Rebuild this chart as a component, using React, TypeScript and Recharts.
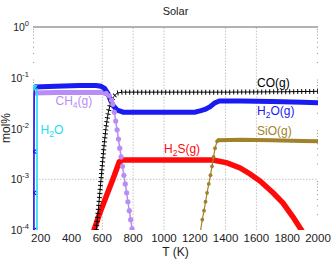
import { LineChart, Line, XAxis, YAxis, ReferenceLine, Customized } from "recharts";

type Pt = [number, number];

// axis ticks
const T_TICKS = [200, 400, 600, 800, 1000, 1200, 1400, 1600, 1800, 2000];
const Y_TICKS = [1e-4, 1e-3, 1e-2, 1e-1, 1];
const GRID_T = [600, 800, 1000, 1400, 1600];
const GRID_Y = [1e-3];
const MINOR_STEPS = [2, 3, 4, 5, 6, 7, 8, 9];
const DECADES = [1e-4, 1e-3, 1e-2, 1e-1];

// series, [T (K), mol%]
const h2oIce: Pt[] = [[157, 0.063], [176, 0.06], [176, 1e-5]];
const h2oGasRise: Pt[] = [[156, 1e-4], [156, 5.4e-4], [156.5, 3.5e-3], [158, 0.066]];
const h2oGas: Pt[] = [
  [158, 0.066], [300, 0.068], [450, 0.07], [560, 0.07], [590, 0.068], [615, 0.062],
  [635, 0.05], [652, 0.037], [671, 0.028], [697, 0.023], [736, 0.021], [900, 0.021],
  [1100, 0.021], [1200, 0.021], [1240, 0.0225], [1270, 0.024], [1300, 0.027],
  [1330, 0.032], [1360, 0.035], [1500, 0.035], [1700, 0.034], [1900, 0.033], [2000, 0.032],
];
const ch4Rise: Pt[] = [[152, 8e-5], [154, 0.05]];
const ch4Plateau: Pt[] = [[154, 0.05], [300, 0.051], [500, 0.051], [600, 0.051], [625, 0.049]];
const ch4Decline: Pt[] = [
  [625, 0.049], [645, 0.044], [660, 0.036], [668, 0.03], [678, 0.021], [687, 0.014],
  [696, 0.0094], [705, 0.0062], [713, 0.0041], [722, 0.00275], [731, 0.0018],
  [740, 0.0012], [749, 8.1e-4], [758, 5.4e-4], [766, 3.6e-4], [775, 2.4e-4],
  [784, 1.6e-4], [793, 1.05e-4], [800, 7e-5],
];
const co: Pt[] = [
  [556, 7e-5], [574, 2.5e-4], [587, 7e-4], [600, 1.9e-3], [613, 5.2e-3], [626, 0.0117],
  [639, 0.021], [652, 0.03], [671, 0.0417], [697, 0.05], [729, 0.052], [1000, 0.052],
  [1400, 0.052], [1800, 0.053], [2000, 0.054],
];
const h2s: Pt[] = [
  [541, 9e-5], [587, 2.3e-4], [632, 5.2e-4], [671, 1.05e-3], [710, 2.2e-3], [730, 0.0024],
  [1000, 0.0024], [1319, 0.0024], [1410, 0.0021], [1494, 0.00167], [1559, 0.00127],
  [1624, 9.2e-4], [1708, 5.4e-4], [1773, 3.4e-4], [1838, 1.8e-4], [1902, 9e-5],
];
const sioRise: Pt[] = [
  [1236, 9e-5], [1249, 1.6e-4], [1260, 2.4e-4], [1270, 3.6e-4], [1280, 5.4e-4],
  [1291, 8.1e-4], [1302, 1.2e-3], [1312, 1.8e-3], [1322, 2.75e-3], [1332, 4.1e-3],
  [1345, 5.6e-3], [1352, 0.0059],
];
const sioPlateau: Pt[] = [[1350, 0.0059], [1500, 0.006], [1700, 0.0059], [1900, 0.0057], [2000, 0.0056]];

const rows = (pts: Pt[]) => pts.map(([T, v]) => ({ T, v }));

const FONT = "'Liberation Sans', Arial, sans-serif";
const CYAN = "#22dcf2";
const BLUE = "#1a1af2";
const PURPLE = "#b88ef4";
const RED = "#ff0a0a";
const BROWN = "#a0822a";

const YTick = ({ x, y, payload }: any) => {
  const e = Math.round(Math.log10(payload.value));
  return (
    <text x={x} y={y + 4} textAnchor="end" fontSize={10.5} fill="#222" fontFamily={FONT}>
      10<tspan dy={-5} fontSize={7.5}>{e}</tspan>
    </text>
  );
};

const Circle = (color: string, r: number) => (p: any) => (
  <circle key={p.key ?? p.index} cx={p.cx} cy={p.cy} r={r} fill={color} stroke="none" />
);

const Cross = (p: any) => (
  <path
    key={p.key ?? p.index}
    d={`M${p.cx - 2},${p.cy - 2}L${p.cx + 2},${p.cy + 2}M${p.cx - 2},${p.cy + 2}L${p.cx + 2},${p.cy - 2}`}
    stroke={BLUE}
    strokeWidth={1.2}
  />
);

const Triangle = (p: any) =>
  p.index === 0 ? (
    <path key={p.key ?? p.index} d={`M${p.cx - 3.5},${p.cy - 3}L${p.cx + 3.5},${p.cy - 3}L${p.cx},${p.cy + 3}Z`} fill={CYAN} />
  ) : (
    <g key={p.key ?? p.index} />
  );

const Sub = ({ children }: any) => (
  <tspan dy={3} fontSize={8.5}>{children}</tspan>
);

const Labels = () => (
  <g fontFamily={FONT}>
    <text x={175.5} y={14.5} textAnchor="middle" fontSize={11} fill="#222">Solar</text>
    <text x={175.5} y={255.5} textAnchor="middle" fontSize={12} fill="#222">T (K)</text>
    <text x={9.5} y={128} textAnchor="middle" fontSize={12} fill="#222" transform="rotate(-90 9.5 128)">mol%</text>
    <text x={257} y={87} fontSize={12} fill="#000">CO(g)</text>
    <text x={257} y={115} fontSize={12} fill={BLUE}>H<Sub>2</Sub><tspan dy={-3}>O(g)</tspan></text>
    <text x={257} y={135} fontSize={12} fill={BROWN}>SiO(g)</text>
    <text x={164} y={153} fontSize={12} fill={RED}>H<Sub>2</Sub><tspan dy={-3}>S(g)</tspan></text>
    <text x={55.5} y={105} fontSize={12} fill={PURPLE}>CH<Sub>4</Sub><tspan dy={-3}>(g)</tspan></text>
    <text x={40.5} y={134} fontSize={12} fill={CYAN}>H<Sub>2</Sub><tspan dy={-3}>O</tspan></text>
  </g>
);

export default function App() {
  const minor = DECADES.flatMap((d) => MINOR_STEPS.map((m) => m * d));
  return (
    <div style={{ width: 332, height: 259, background: "#fff" }}>
      <style>{"body{margin:0}"}</style>
      <LineChart width={332} height={259} margin={{ top: 27, right: 14, bottom: 0, left: 0 }} style={{ fontFamily: FONT }}>
        <XAxis
          type="number"
          dataKey="T"
          domain={[150, 2000]}
          ticks={T_TICKS}
          allowDataOverflow
          axisLine={false}
          tickLine={false}
          tickSize={0}
          tickMargin={4}
          height={29}
          tick={{ fontSize: 11.5, fill: "#222" }}
        />
        <YAxis
          type="number"
          dataKey="v"
          scale="log"
          domain={[1e-4, 1]}
          ticks={Y_TICKS}
          allowDataOverflow
          axisLine={false}
          tickLine={false}
          tickSize={0}
          tickMargin={4}
          width={33}
          tick={<YTick />}
        />
        {GRID_T.map((t) => (
          <ReferenceLine key={"gx" + t} x={t} stroke="#c4c4c4" strokeDasharray="1.5 1.5" />
        ))}
        {GRID_Y.map((v) => (
          <ReferenceLine key={"gy" + v} y={v} stroke="#c4c4c4" strokeDasharray="1.5 1.5" />
        ))}
        <ReferenceLine y={1} stroke="#666" />
        {minor.map((v) => (
          <ReferenceLine key={"ml" + v} segment={[{ x: 150, y: v }, { x: 157, y: v }]} stroke="#999" />
        ))}
        {minor.map((v) => (
          <ReferenceLine key={"mr" + v} segment={[{ x: 1993, y: v }, { x: 2000, y: v }]} stroke="#999" />
        ))}

        <Line data={rows(ch4Rise)} dataKey="v" stroke={PURPLE} strokeWidth={2} dot={false} isAnimationActive={false} />
        <Line data={rows(ch4Plateau)} dataKey="v" stroke={PURPLE} strokeWidth={5} dot={false} isAnimationActive={false} />
        <Line data={rows(ch4Decline)} dataKey="v" stroke={PURPLE} strokeWidth={1.5} dot={Circle(PURPLE, 2.6)} isAnimationActive={false} />
        <Line data={rows(h2oGas)} dataKey="v" stroke={BLUE} strokeWidth={5} dot={false} isAnimationActive={false} />
        <Line data={rows(h2oGasRise)} dataKey="v" stroke={BLUE} strokeWidth={1.5} dot={Cross} isAnimationActive={false} />
        <Line data={rows(h2oIce)} dataKey="v" stroke={CYAN} strokeWidth={1.6} dot={Triangle} isAnimationActive={false} />
        <Line data={rows(h2s)} dataKey="v" stroke={RED} strokeWidth={5.5} dot={false} isAnimationActive={false} />
        <Line data={rows(co)} dataKey="v" stroke="#000" strokeWidth={1} dot={false} isAnimationActive={false} />
        <Line data={rows(co)} dataKey="v" stroke="#000" strokeWidth={5} strokeDasharray="1 3" dot={false} isAnimationActive={false} />
        <Line data={rows(sioRise)} dataKey="v" stroke={BROWN} strokeWidth={1.2} dot={Circle(BROWN, 1.9)} isAnimationActive={false} />
        <Line data={rows(sioPlateau)} dataKey="v" stroke={BROWN} strokeWidth={4} dot={false} isAnimationActive={false} />
        <Customized component={<Labels />} />
      </LineChart>
    </div>
  );
}
